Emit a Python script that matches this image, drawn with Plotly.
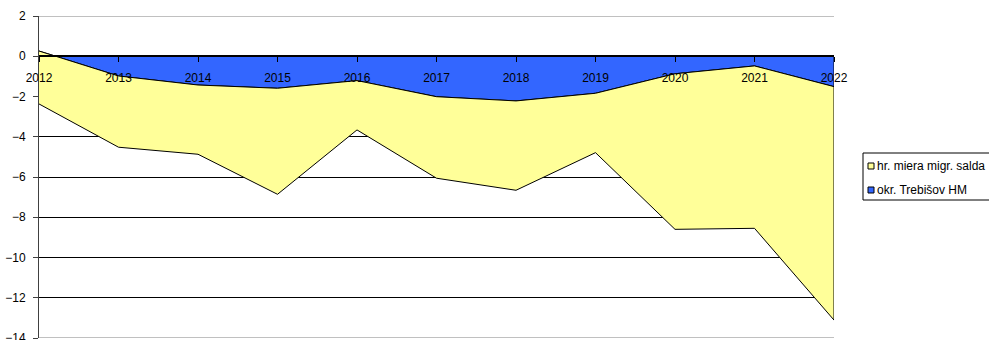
import plotly.graph_objects as go

# Migration balance rates by year
years = [2012, 2013, 2014, 2015, 2016, 2017, 2018, 2019, 2020, 2021, 2022]
year_labels = [str(y) for y in years]
hr_miera = [-2.37, -4.52, -4.87, -6.86, -3.66, -6.06, -6.66, -4.79, -8.60, -8.55, -13.11]
trebisov_hm = [0.26, -0.98, -1.43, -1.59, -1.21, -2.01, -2.22, -1.84, -0.87, -0.48, -1.51]

series_names = ["hr. miera migr. salda", "okr. Trebišov HM"]
series_colors = ["#FFFF99", "#3366FF"]
y_ticks = list(range(-14, 3, 2))

FONT = "Liberation Sans, Arial, sans-serif"

# plot area in pixels (used for placing the hand-drawn legend)
W, H = 989, 340
ML, MR, MT, MB = 39, 155, 16, 2
PW, PH = W - ML - MR, H - MT - MB


def px_x(px):
    return (px - ML) / PW


def px_y(py):
    return (H - MB - py) / PH


fig = go.Figure()

# district series: area between its line and the zero baseline
fig.add_trace(go.Scatter(
    x=years + [years[-1], years[0]], y=trebisov_hm + [0, 0],
    name=series_names[1], mode="lines", fill="toself",
    fillcolor=series_colors[1], line=dict(color="black", width=1),
    showlegend=False, hoverinfo="skip",
))

# gross rate: band between the district line and its own line
fig.add_trace(go.Scatter(
    x=years + years[::-1], y=trebisov_hm + hr_miera[::-1],
    name=series_names[0], mode="lines", fill="toself",
    fillcolor=series_colors[0], line=dict(color="black", width=1),
    showlegend=False, hoverinfo="skip",
))

zero_pos = (0 - y_ticks[0]) / (y_ticks[-1] - y_ticks[0])

shapes = [
    # plot-area border lines at top and bottom
    dict(type="line", xref="paper", yref="y", x0=0, x1=1, y0=y_ticks[-1], y1=y_ticks[-1],
         line=dict(color="#C0C0C0", width=2), layer="below"),
    dict(type="line", xref="paper", yref="y", x0=0, x1=1, y0=y_ticks[0], y1=y_ticks[0],
         line=dict(color="#C0C0C0", width=2), layer="below"),
    # legend frame
    dict(type="rect", xref="paper", yref="paper",
         x0=px_x(863), x1=px_x(1000), y0=px_y(200), y1=px_y(153),
         line=dict(color="black", width=1), fillcolor="white"),
]
annotations = []
for i, (name, color) in enumerate(zip(series_names, series_colors)):
    cy = 166 + 24 * i
    shapes.append(dict(type="rect", xref="paper", yref="paper",
                       x0=px_x(868), x1=px_x(874), y0=px_y(cy + 3), y1=px_y(cy - 3),
                       line=dict(color="black", width=1), fillcolor=color))
    annotations.append(dict(xref="paper", yref="paper", x=px_x(875), y=px_y(cy),
                            xanchor="left", yanchor="middle", text=name, showarrow=False,
                            font=dict(family=FONT, size=12, color="black")))

fig.update_layout(
    width=W, height=H,
    margin=dict(l=ML, r=MR, t=MT, b=MB, pad=0, autoexpand=False),
    paper_bgcolor="white", plot_bgcolor="white",
    showlegend=False,
    shapes=shapes, annotations=annotations,
    font=dict(family=FONT, size=12, color="black"),
    xaxis=dict(
        range=[years[0], years[-1]], tickvals=years, ticktext=year_labels,
        anchor="free", position=zero_pos, automargin=False,
        showline=True, linecolor="black", linewidth=2,
        ticks="outside", ticklen=5, tickcolor="black",
        ticklabelstandoff=5,
        showgrid=False, zeroline=False,
        tickfont=dict(family=FONT, size=12, color="black"),
    ),
    yaxis=dict(
        range=[y_ticks[0], y_ticks[-1]], tickvals=y_ticks, automargin=False,
        showline=True, linecolor="#404040", linewidth=1,
        ticks="outside", ticklen=5, tickcolor="#404040",
        ticklabelstandoff=5, ticklabeloverflow="allow",
        showgrid=True, gridcolor="black", gridwidth=1, zeroline=False,
        tickfont=dict(family=FONT, size=12, color="black"),
    ),
)

fig.write_html("out.html")
